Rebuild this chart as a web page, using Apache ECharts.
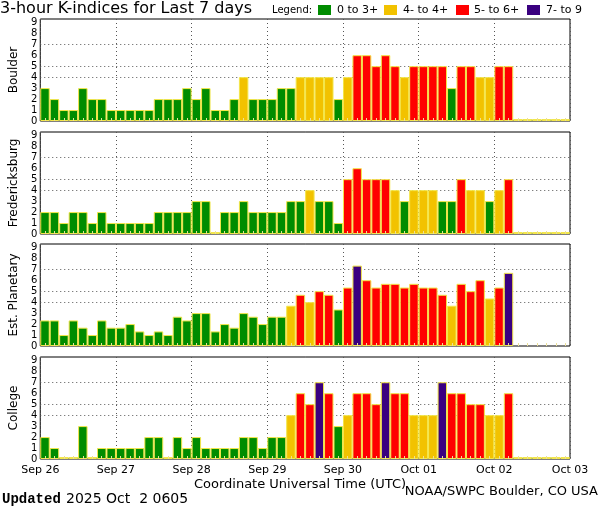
<!DOCTYPE html>
<html><head><meta charset="utf-8">
<script src="https://cdn.jsdelivr.net/npm/echarts@6/dist/echarts.min.js"></script>
<style>html,body{margin:0;padding:0;background:#fff}#c{width:600px;height:510px}</style>
</head><body><div id="c"></div>
<script>
const dayLabels = ['Sep 26','Sep 27','Sep 28','Sep 29','Sep 30','Oct 01','Oct 02','Oct 03'];
const stationNames = ['Boulder','Fredericksburg','Est. Planetary','College'];
const yTicks = [0,1,2,3,4,5,6,7,8,9];
const refLines = [4,5,7];
const legendLabels = ['0 to 3+','4- to 4+','5- to 6+','7- to 9'];
const boulder = [3,2,1,1,3,2,2,1, 1,1,1,1,2,2,2,3, 2,3,1,1,2,4,2,2, 2,3,3,4,4,4,4,2,
                 4,6,6,5,6,5,4,5, 5,5,5,3,5,5,4,4, 5,5,0,0,0,0,0,0];
const fredericksburg = [2,2,1,2,2,1,2,1, 1,1,1,1,2,2,2,2, 3,3,0,2,2,3,2,2, 2,2,3,3,4,3,3,1,
                 5,6,5,5,5,4,3,4, 4,4,3,3,5,4,4,3, 4,5,0,0,0,0,0,0];
const planetary = [2.33,2.33,1,2.33,1.67,1,2.33,1.67, 1.67,2,1.33,1,1.33,1,2.67,2.33,
                 3,3,1.33,2,1.67,3,2.67,2, 2.67,2.67,3.67,4.67,4,5,4.67,3.33,
                 5.33,7.33,6,5.33,5.67,5.67,5.33,5.67, 5.33,5.33,4.67,3.67,5.67,5,6,4.33,
                 5.33,6.67,'-','-','-','-','-','-'];
const college = [2,1,0,0,3,0,1,1, 1,1,1,2,2,0,2,1, 2,1,1,1,1,2,2,1, 2,2,4,6,5,7,6,3,
                 4,6,6,5,7,6,6,4, 4,4,7,6,6,5,5,4, 4,6,0,0,0,0,0,0];
const panels = [boulder, fredericksburg, planetary, college];

const GREEN='#008c00', YELLOW='#f2c200', RED='#ff0000', PURPLE='#3a0080';
const legendColors = [GREEN, YELLOW, RED, PURPLE];
function kColor(v){ if (v>=6.5) return PURPLE; if (v>=4.5) return RED; if (v>=3.5) return YELLOW; return GREEN; }

const slots = [];
for (let d=0; d<7; d++) for (let h=0; h<8; h++) slots.push(dayLabels[d]+' '+(h*3));

const tops = [19,132,244,357];
const grid=[], xAxis=[], yAxis=[], series=[];
const FONT = 'DejaVu Sans';
panels.forEach((vals,i)=>{
  grid.push({left:36, right:30, top:tops[i], height:102, show:true, borderColor:'#000', borderWidth:1, backgroundColor:'#fff'});
  xAxis.push({type:'category', gridIndex:i, data:slots, position:'bottom', boundaryGap:true, z:5,
    axisLine:{show:false}, axisLabel:{show:false},
    axisTick:{show:true, inside:true, alignWithLabel:true, interval:0, length:3, lineStyle:{color:'#eadf9a'}}});
  xAxis.push({type:'value', gridIndex:i, min:0, max:56, interval:8, position:'bottom',
    axisLine:{show:false}, axisTick:{show:false},
    splitLine:{show:true, lineStyle:{type:[1,3], color:'#555', width:1}},
    axisLabel:{show:i===3, showMinLabel:true, showMaxLabel:true, margin:6, fontFamily:FONT, fontSize:11, color:'#000',
      formatter:v=>dayLabels[Math.round(v/8)]}});
  yAxis.push({type:'value', gridIndex:i, min:0, max:9.3, interval:1,
    name:stationNames[i], nameLocation:'middle', nameRotate:90, nameGap:18,
    nameTextStyle:{fontFamily:FONT, fontSize:12, color:'#000'},
    axisLine:{show:false}, axisTick:{show:false}, splitLine:{show:false},
    axisLabel:{margin:3, fontFamily:FONT, fontSize:10, color:'#000', showMaxLabel:false,
      formatter:v=>yTicks.indexOf(v)>=0 ? String(v) : ''}});
  series.push({type:'bar', xAxisIndex:2*i, yAxisIndex:i, data:vals, barCategoryGap:'0%', barMinHeight:2, z:2,
    itemStyle:{color:p=>kColor(p.value), borderColor:'#f3e64a', borderWidth:1},
    emphasis:{disabled:true}, animation:false,
    markLine:{silent:true, symbol:'none', z:1, label:{show:false},
      lineStyle:{type:[1,3], color:'#555', width:1},
      data:refLines.map(v=>({yAxis:v}))}});
});

const graphic = [
  {type:'text', left:0, top:1, style:{text:'3-hour K-indices for Last 7 days', font:'16px "DejaVu Sans"', fill:'#000'}},
  {type:'text', left:272, top:5, style:{text:'Legend:', font:'10px "DejaVu Sans"', fill:'#000'}}
];
const boxX=[318,384,456,527], txtX=[337,403,474,546];
legendLabels.forEach((t,k)=>{
  graphic.push({type:'rect', left:boxX[k], top:5, shape:{width:13,height:10}, style:{fill:legendColors[k]}});
  graphic.push({type:'text', left:txtX[k], top:5, style:{text:t, font:'11px "DejaVu Sans"', fill:'#000'}});
});
graphic.push({type:'text', left:'center', top:478, style:{text:'Coordinate Universal Time (UTC)', font:'13px "DejaVu Sans"', fill:'#000'}});
graphic.push({type:'text', left:2, top:492, style:{text:'Updated', font:'bold 14px "Liberation Mono"', fill:'#000'}});
graphic.push({type:'text', left:66, top:492, style:{text:'2025 Oct  2 0605', font:'14px "DejaVu Sans"', fill:'#000'}});
graphic.push({type:'text', right:2, top:485, style:{text:'NOAA/SWPC Boulder, CO USA', font:'13px "DejaVu Sans"', fill:'#000'}});

const chart = echarts.init(document.getElementById('c'), null, {renderer:'canvas'});
chart.setOption({animation:false, backgroundColor:'#fff', grid, xAxis, yAxis, series, graphic});
</script></body></html>
